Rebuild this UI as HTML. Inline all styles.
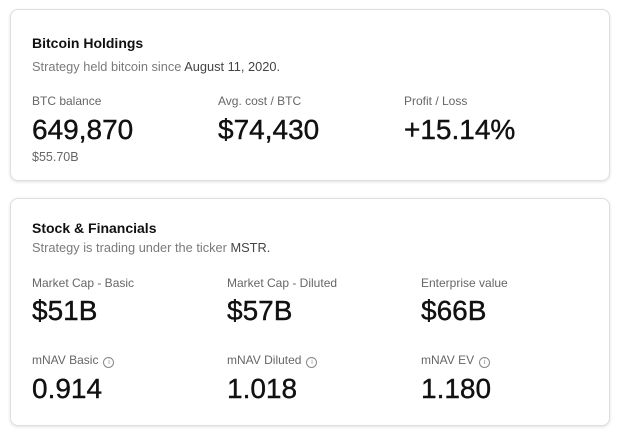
<!DOCTYPE html>
<html><head><meta charset="utf-8"><style>
body{margin:0;width:622px;height:435px;background:#fff;font-family:"Liberation Sans",sans-serif;position:relative;overflow:hidden}
.card{position:absolute;left:10px;width:598px;border:1px solid #dedede;border-radius:8px;box-shadow:0 1px 3px rgba(0,0,0,.12);background:#fff}
.t{position:absolute;white-space:nowrap;line-height:1}
.title{font-size:14px;font-weight:bold;color:#111}
.sub{font-size:12.8px;color:#7a7a7a}
.sub b{color:#444;font-weight:normal}
.lbl{font-size:12px;color:#666}
.val{font-size:28px;color:#111;-webkit-text-stroke:0.4px #111}
.small{font-size:12.5px;color:#666}
.info{display:inline-block;width:9px;height:9px;border:1px solid #888;border-radius:50%;font-size:7px;text-align:center;line-height:9px;margin-left:5px;vertical-align:0px;color:#888}
</style></head><body>
<div class="card" style="top:9px;height:170px"></div>
<div class="t title" style="left:32px;top:36px">Bitcoin Holdings</div>
<div class="t sub" style="left:32px;top:61px">Strategy held bitcoin since <b>August 11, 2020.</b></div>
<div class="t lbl" style="left:32px;top:95px">BTC balance</div>
<div class="t val" style="left:32px;top:116px">649,870</div>
<div class="t small" style="left:32px;top:151px">$55.70B</div>
<div class="t lbl" style="left:218px;top:95px">Avg. cost / BTC</div>
<div class="t val" style="left:218px;top:116px">$74,430</div>
<div class="t lbl" style="left:404px;top:95px">Profit / Loss</div>
<div class="t val" style="left:404px;top:116px">+15.14%</div>

<div class="card" style="top:198px;height:226px"></div>
<div class="t title" style="left:32px;top:221px">Stock &amp; Financials</div>
<div class="t sub" style="left:32px;top:242px">Strategy is trading under the ticker <b>MSTR.</b></div>
<div class="t lbl" style="left:32px;top:277px">Market Cap - Basic</div>
<div class="t val" style="left:32px;top:297px">$51B</div>
<div class="t lbl" style="left:227px;top:277px">Market Cap - Diluted</div>
<div class="t val" style="left:227px;top:297px">$57B</div>
<div class="t lbl" style="left:421px;top:277px">Enterprise value</div>
<div class="t val" style="left:421px;top:297px">$66B</div>
<div class="t lbl" style="left:32px;top:354px">mNAV Basic<span class="info">i</span></div>
<div class="t val" style="left:32px;top:375px">0.914</div>
<div class="t lbl" style="left:227px;top:354px">mNAV Diluted<span class="info">i</span></div>
<div class="t val" style="left:227px;top:375px">1.018</div>
<div class="t lbl" style="left:421px;top:354px">mNAV EV<span class="info">i</span></div>
<div class="t val" style="left:421px;top:375px">1.180</div>
</body></html>
